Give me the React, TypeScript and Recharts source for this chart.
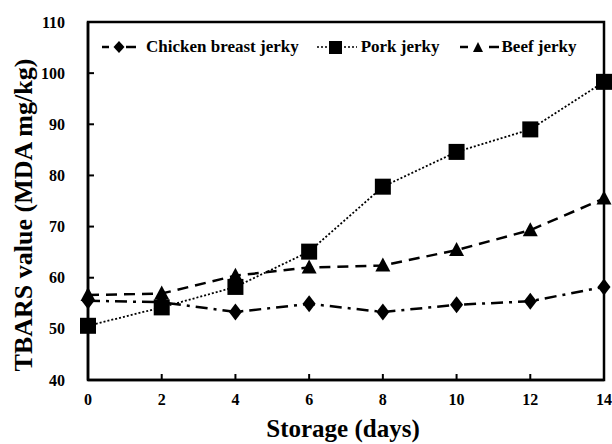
import React from 'react';
import { LineChart, Line, XAxis, YAxis, ReferenceArea, Legend } from 'recharts';

const days = [0, 2, 4, 6, 8, 10, 12, 14];
const chicken = [55.5, 55.2, 53.3, 54.9, 53.3, 54.7, 55.4, 58.2];
const pork = [50.6, 54.2, 58.2, 65.1, 77.8, 84.6, 89.0, 98.3];
const beef = [56.6, 56.9, 60.4, 62.0, 62.4, 65.4, 69.3, 75.5];
const yTicks = [40, 50, 60, 70, 80, 90, 100, 110];
const seriesNames = ['Chicken breast jerky', 'Pork jerky', 'Beef jerky'];

const data = days.map((d, i) => ({ day: d, chicken: chicken[i], pork: pork[i], beef: beef[i] }));

const FONT = '"Liberation Serif", "Times New Roman", serif';

const Diamond = (props: any) => {
  const { cx, cy } = props;
  if (cx == null || cy == null) return null;
  return <polygon points={`${cx},${cy - 8.5} ${cx + 6.5},${cy} ${cx},${cy + 8.5} ${cx - 6.5},${cy}`} fill="#000" />;
};
const Square = (props: any) => {
  const { cx, cy } = props;
  if (cx == null || cy == null) return null;
  return <rect x={cx - 8} y={cy - 8} width={16} height={16} fill="#000" />;
};
const Triangle = (props: any) => {
  const { cx, cy } = props;
  if (cx == null || cy == null) return null;
  return <polygon points={`${cx},${cy - 8} ${cx + 7.5},${cy + 6} ${cx - 7.5},${cy + 6}`} fill="#000" />;
};

const XTick = (props: any) => {
  const { x, y, payload } = props;
  return (
    <g>
      <line x1={x} x2={x} y1={y} y2={y - 6} stroke="#000" strokeWidth={2} />
      <text x={x} y={y + 25} textAnchor="middle" fontFamily={FONT} fontWeight="bold" fontSize={16} fill="#000">
        {payload.value}
      </text>
    </g>
  );
};
const YTick = (props: any) => {
  const { x, y, payload } = props;
  return (
    <g>
      <line x1={x} x2={x + 6} y1={y} y2={y} stroke="#000" strokeWidth={2} />
      <text x={x - 23} y={y + 5.5} textAnchor="end" fontFamily={FONT} fontWeight="bold" fontSize={16} fill="#000">
        {payload.value}
      </text>
    </g>
  );
};

const LegendContent = () => {
  const icon = (kind: number) => {
    if (kind === 0)
      return (
        <svg width={34} height={16}>
          <line x1={0} x2={7} y1={8} y2={8} stroke="#000" strokeWidth={2.5} />
          <polygon points="17,2 22.5,8 17,14 11.5,8" fill="#000" />
          <line x1={24} x2={34} y1={8} y2={8} stroke="#000" strokeWidth={2.5} />
        </svg>
      );
    if (kind === 1)
      return (
        <svg width={40} height={16}>
          <line x1={0} x2={11} y1={8} y2={8} stroke="#000" strokeWidth={1.5} strokeDasharray="2 2" />
          <rect x={12} y={2} width={13} height={13} fill="#000" />
          <line x1={27} x2={40} y1={8} y2={8} stroke="#000" strokeWidth={1.5} strokeDasharray="2 2" />
        </svg>
      );
    return (
      <svg width={40} height={16}>
        <line x1={0} x2={8} y1={8} y2={8} stroke="#000" strokeWidth={2.5} />
        <polygon points="18,3 23,13 13,13" fill="#000" />
        <line x1={29} x2={39} y1={8} y2={8} stroke="#000" strokeWidth={2.5} />
      </svg>
    );
  };
  const margins = [0, 18, 20];
  const gaps = [10, 4, 2];
  return (
    <div style={{ display: 'flex', alignItems: 'center', fontFamily: FONT, fontWeight: 'bold', fontSize: 17, color: '#000' }}>
      {seriesNames.map((n, i) => (
        <div key={n} style={{ display: 'flex', alignItems: 'center', marginLeft: margins[i] }}>
          {icon(i)}
          <span style={{ marginLeft: gaps[i], whiteSpace: 'nowrap' }}>{n}</span>
        </div>
      ))}
    </div>
  );
};

export default function App() {
  return (
    <div style={{ position: 'absolute', left: 0, top: 0, background: '#fff' }}>
      <LineChart width={612} height={444} data={data} margin={{ top: 22, right: 8, bottom: 0, left: 0 }}>
        <XAxis
          dataKey="day"
          type="number"
          domain={[0, 14]}
          ticks={days}
          tickSize={0}
          tickMargin={0}
          tick={<XTick />}
          height={44}
          axisLine={{ stroke: '#000', strokeWidth: 2.5 }}
          tickLine={false}
          label={(p: any) => (
            <text x={343} y={437} textAnchor="middle" fontFamily={FONT} fontWeight="bold" fontSize={25} fill="#000">
              Storage (days)
            </text>
          )}
        />
        <YAxis
          type="number"
          domain={[40, 110]}
          ticks={yTicks}
          tickSize={0}
          tickMargin={0}
          tick={<YTick />}
          width={88}
          axisLine={{ stroke: '#000', strokeWidth: 2.5 }}
          tickLine={false}
          label={(p: any) => (
            <text
              x={32}
              y={215}
              transform="rotate(-90, 32, 215)"
              textAnchor="middle"
              fontFamily={FONT}
              fontWeight="bold"
              fontSize={26}
              fill="#000"
            >
              TBARS value (MDA mg/kg)
            </text>
          )}
        />
        <ReferenceArea x1={0} x2={14} y1={40} y2={110} fill="none" stroke="#000" strokeWidth={2.5} ifOverflow="visible" />
        <Legend content={<LegendContent />} wrapperStyle={{ top: 37, left: 102, width: 500 }} />
        <Line
          dataKey="chicken"
          name={seriesNames[0]}
          stroke="#000"
          strokeWidth={2.5}
          strokeDasharray="12 6 3 6"
          dot={<Diamond />}
          activeDot={false}
          isAnimationActive={false}
        />
        <Line
          dataKey="pork"
          name={seriesNames[1]}
          stroke="#000"
          strokeWidth={1.8}
          strokeDasharray="2 2"
          dot={<Square />}
          activeDot={false}
          isAnimationActive={false}
        />
        <Line
          dataKey="beef"
          name={seriesNames[2]}
          stroke="#000"
          strokeWidth={2.5}
          strokeDasharray="11 7"
          dot={<Triangle />}
          activeDot={false}
          isAnimationActive={false}
        />
      </LineChart>
    </div>
  );
}
